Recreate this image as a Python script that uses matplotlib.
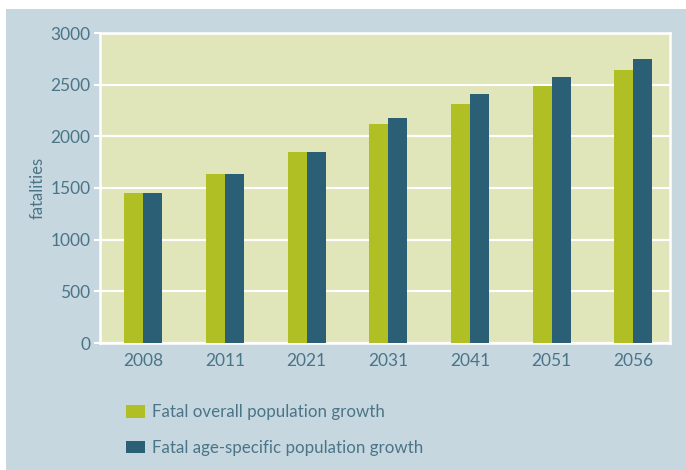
import matplotlib.pyplot as plt
from matplotlib.patches import Rectangle, Patch
import numpy as np

years = ['2008', '2011', '2021', '2031', '2041', '2051', '2056']
overall = [1455, 1640, 1850, 2115, 2310, 2485, 2640]
age_specific = [1455, 1640, 1850, 2175, 2405, 2570, 2745]
series_names = ['Fatal overall population growth',
                'Fatal age-specific population growth']

green = '#afbf24'
blue = '#2b5f75'
panel = '#c7d7df'
plot_bg = '#e0e5ba'
text_col = '#4a7588'

plt.rcParams['font.family'] = ['Lato', 'DejaVu Sans']

fig = plt.figure(figsize=(6.86, 4.70), dpi=100)
# light blue-grey panel behind everything
fig.patches.append(Rectangle((6 / 686, 0), 1, 1 - 9 / 470, transform=fig.transFigure,
                             facecolor=panel, edgecolor='none', zorder=-5))

ax = fig.add_axes([100 / 686, 1 - 343 / 470, 570 / 686, 310 / 470])
ax.set_facecolor(plot_bg)

x = np.arange(len(years))
w = 0.233
ax.bar(x - w / 2, overall, w, color=green, zorder=3)
ax.bar(x + w / 2, age_specific, w, color=blue, zorder=3)

ax.set_xlim(-0.53, 6.45)
ax.set_ylim(0, 3000)
ax.set_yticks(range(0, 3001, 500))
ax.set_xticks(x)
ax.set_xticklabels(years)
ax.yaxis.grid(True, color='white', linewidth=1.6, zorder=1)
ax.set_axisbelow(True)
for s in ax.spines.values():
    s.set_color('white')
    s.set_linewidth(1.8)
ax.tick_params(axis='y', colors='white', length=4, width=1.5, labelcolor=text_col,
               labelsize=12.5, pad=3)
ax.tick_params(axis='x', length=0, labelcolor=text_col, labelsize=12.5, pad=7)
ax.set_ylabel('fatalities', color=text_col, fontsize=12, labelpad=3)

handles = [Patch(facecolor=green), Patch(facecolor=blue)]
fig.legend(handles, series_names, loc='upper left', bbox_to_anchor=(111 / 686, 1 - 389 / 470),
           frameon=False, fontsize=12.2, labelcolor=text_col,
           handlelength=1.12, handleheight=0.75, handletextpad=0.4, labelspacing=1.15)

fig.savefig('out.png', dpi=100, facecolor='white')
